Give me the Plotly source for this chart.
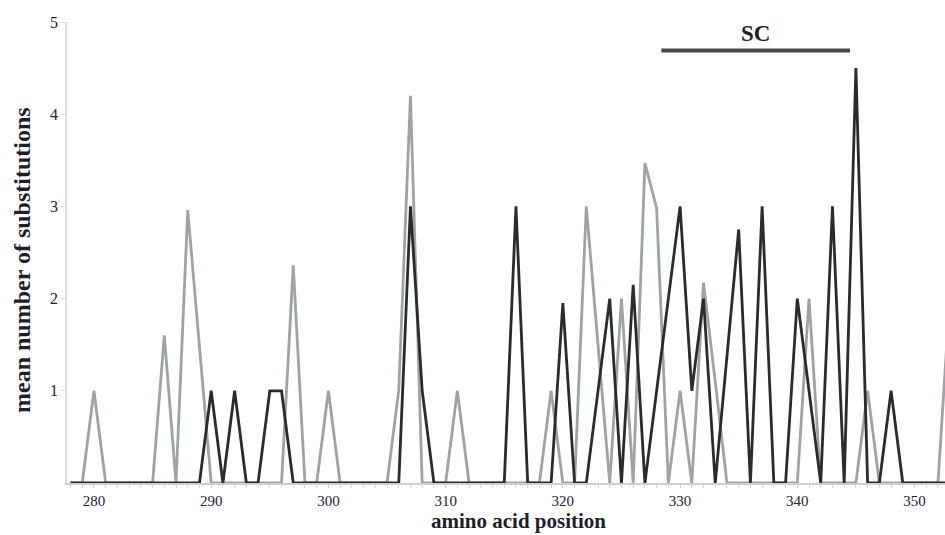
import plotly.graph_objects as go

# ---- data ----
positions = list(range(278, 354))

gray_values = [
    0, 0, 1, 0, 0, 0, 0, 0, 1.6, 0,          # 278-287
    2.96, 1.45, 0, 0, 0, 0, 0, 0, 0, 2.36,   # 288-297
    0, 0, 1, 0, 0, 0, 0, 0, 1, 4.2,          # 298-307
    0, 0, 0, 1, 0, 0, 0, 0, 0, 0,            # 308-317
    0, 1, 0, 0, 3, 1.5, 0, 2, 0, 3.47,       # 318-327
    2.98, 0, 1, 0, 2.17, 1.1, 0, 0, 0, 0,    # 328-337
    0, 0, 0, 2, 0, 0, 0, 0, 1, 0,            # 338-347
    0, 0, 0, 0, 0, 2,                        # 348-353
]

black_values = [
    0, 0, 0, 0, 0, 0, 0, 0, 0, 0,            # 278-287
    0, 0, 1, 0, 1, 0, 0, 1, 1, 0,            # 288-297
    0, 0, 0, 0, 0, 0, 0, 0, 0, 3,            # 298-307
    1, 0, 0, 0, 0, 0, 0, 0, 3, 0,            # 308-317
    0, 0, 1.95, 0, 0, 1, 2, 0, 2.15, 0,      # 318-327
    1, 2, 3, 1, 2, 0, 1.4, 2.75, 0, 3,       # 328-337
    0, 0, 2, 1, 0, 3, 0, 4.5, 0, 0,          # 338-347
    1, 0, 0, 0, 0, 0,                        # 348-353
]

x_tick_vals = [280, 290, 300, 310, 320, 330, 340, 350]
y_tick_vals = [1, 2, 3, 4, 5]

sc_label = "SC"
sc_start, sc_end, sc_level = 328.4, 344.5, 4.69

# ---- figure ----
FONT = "Liberation Serif, Times New Roman, serif"

fig = go.Figure()
fig.add_trace(go.Scatter(
    x=positions, y=gray_values, mode="lines",
    line=dict(color="#9ea4a5", width=2.8), showlegend=False,
))
fig.add_trace(go.Scatter(
    x=positions, y=black_values, mode="lines",
    line=dict(color="#2b2b2b", width=2.8), showlegend=False,
))

# SC region bar
fig.add_trace(go.Scatter(
    x=[sc_start, sc_end], y=[sc_level, sc_level], mode="lines",
    line=dict(color="#474747", width=4), showlegend=False, hoverinfo="skip",
))
fig.add_annotation(
    x=(sc_start + sc_end) / 2, y=sc_level, text="<b>" + sc_label + "</b>",
    showarrow=False, yanchor="bottom", yshift=3,
    font=dict(family=FONT, size=23, color="#1e1e2a"),
)

# axis titles
fig.add_annotation(
    xref="paper", yref="paper", x=0.5137, y=0, yshift=-38,
    text="<b>amino acid position</b>", showarrow=False,
    xanchor="center", yanchor="middle", borderpad=0,
    font=dict(family=FONT, size=21, color="#1e1e2a"),
)
fig.add_annotation(
    xref="paper", yref="paper", x=0, xshift=-45, y=0.4837,
    text="<b>mean number of substitutions</b>", showarrow=False,
    textangle=-90, xanchor="center", yanchor="middle",
    font=dict(family=FONT, size=24, color="#1e1e2a"),
)

fig.update_layout(
    width=945, height=535,
    margin=dict(l=67, r=0, t=22, b=52),
    paper_bgcolor="white", plot_bgcolor="white",
    font=dict(family=FONT, size=15, color="#222233"),
    showlegend=False,
)
fig.update_xaxes(
    range=[277.7, 352.6],
    tickvals=x_tick_vals,
    showgrid=False, zeroline=False,
    showline=True, linecolor="#cfcfcf", linewidth=1.5,
    ticks="outside", ticklen=3, tickcolor="#cfcfcf",
    minor=dict(dtick=1, ticks="outside", ticklen=3, tickcolor="#d8d8d8"),
    tickfont=dict(family=FONT, size=15, color="#222233"),
)
fig.update_yaxes(
    range=[0, 5],
    tickvals=y_tick_vals,
    showgrid=False, zeroline=False,
    showline=True, linecolor="#dcdcdc", linewidth=1.5,
    ticks="outside", ticklen=4, tickcolor="#d8d8d8",
    tickfont=dict(family=FONT, size=16, color="#222233"),
)

fig.write_html("out.html")
